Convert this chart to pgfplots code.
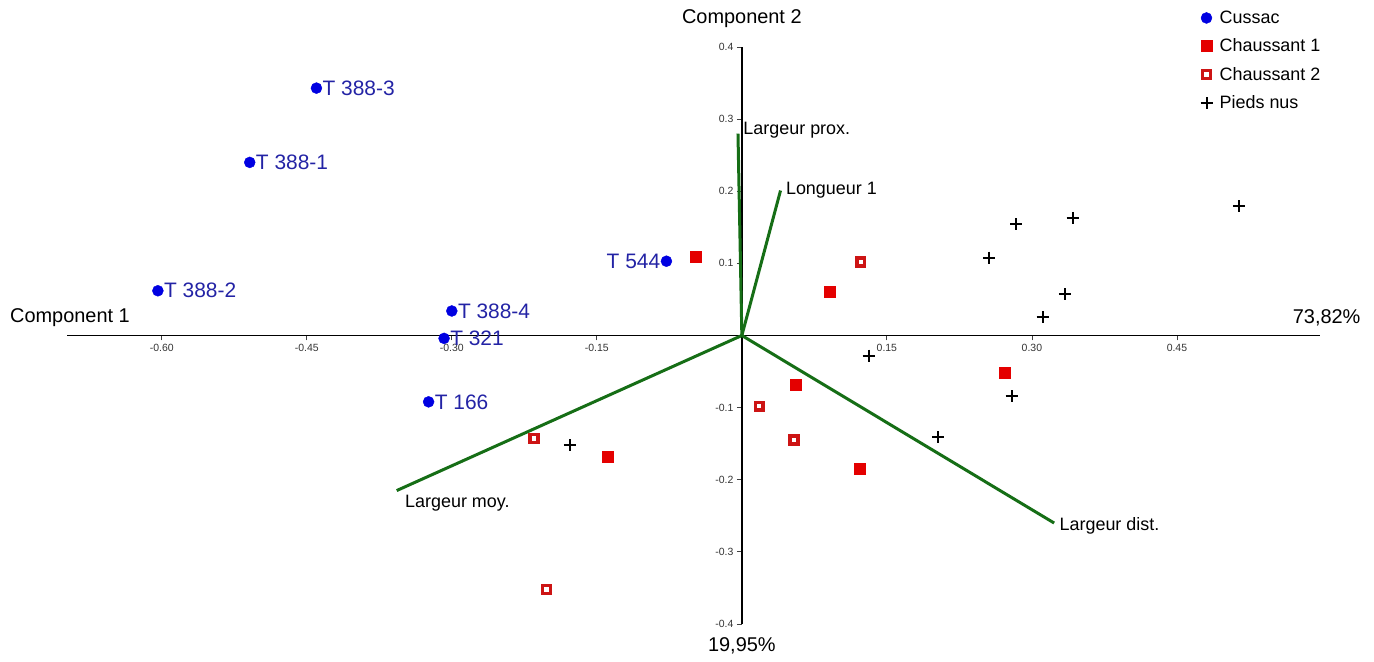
\documentclass[border=0pt]{standalone}
\usepackage{pgfplots}
\pgfplotsset{compat=1.18}
\usepackage{fontspec}
\setmainfont{Liberation Sans}
\definecolor{cblue}{RGB}{0,0,225}
\definecolor{ctext}{RGB}{35,35,165}
\definecolor{cred}{RGB}{228,0,0}
\definecolor{cred2}{RGB}{205,20,20}
\definecolor{cgreen}{RGB}{22,110,22}
\begin{document}
\begin{tikzpicture}
\path[use as bounding box] (0,0) rectangle (1374bp,662bp);
\begin{axis}[
  at={(67bp,38bp)}, anchor=south west,
  scale only axis, width=1253bp, height=577bp,
  xmin=-0.698, xmax=0.598, ymin=-0.4, ymax=0.4,
  axis lines=middle, axis line style={-, line width=1.4bp, black},
  tick align=outside, major tick length=5bp,
  tick style={line width=0.8bp, black!75},
  xtick={-0.6,-0.45,-0.3,-0.15,0.15,0.3,0.45},
  xticklabels={-0.60,-0.45,-0.30,-0.15,0.15,0.30,0.45},
  ytick={-0.4,-0.3,-0.2,-0.1,0.1,0.2,0.3,0.4},
  yticklabels={-0.4,-0.3,-0.2,-0.1,0.1,0.2,0.3,0.4},
  ticklabel style={font=\fontsize{10.5}{12}\selectfont, text=black!80},
  /pgf/number format/assume math mode=true,
  clip=false,
  legend style={at={(axis description cs:0.9027,1.068)}, anchor=north west,
    draw=none, fill=none, font=\fontsize{18}{21}\selectfont,
    row sep=10bp, inner sep=1bp},
  legend cell align=left,
  legend image code/.code={\path (0bp,0bp) (18bp,0bp);\draw[mark repeat=2,mark phase=2,#1] plot coordinates {(0bp,0bp)(7bp,0bp)(14bp,0bp)};},
]
% loadings
\addplot[forget plot, cgreen, line width=3bp] coordinates {(0,0) (-0.004,0.280)}
  node[pos=1, anchor=west, xshift=3bp, yshift=3bp, text=black, font=\fontsize{18}{21}\selectfont, inner sep=1bp] {Largeur prox.};
\addplot[forget plot, cgreen, line width=3bp] coordinates {(0,0) (0.040,0.201)}
  node[pos=1, anchor=west, xshift=3bp, text=black, font=\fontsize{18}{21}\selectfont, inner sep=1bp] {Longueur 1};
\addplot[forget plot, cgreen, line width=3bp] coordinates {(0,0) (-0.357,-0.215)}
  node[pos=1, anchor=north west, xshift=6bp, yshift=-2bp, text=black, font=\fontsize{18}{21}\selectfont, inner sep=1bp] {Largeur moy.};
\addplot[forget plot, cgreen, line width=3bp] coordinates {(0,0) (0.323,-0.260)}
  node[pos=1, anchor=west, xshift=3bp, yshift=-3bp, text=black, font=\fontsize{18}{21}\selectfont, inner sep=1bp] {Largeur dist.};
% Cussac
\addplot[only marks, mark=*, mark size=5.5bp, color=cblue,
  point meta=explicit symbolic, nodes near coords,
  every node near coord/.append style={anchor=west, xshift=6bp, text=ctext, font=\fontsize{21}{24}\selectfont, inner sep=0bp}]
  table[meta=label, col sep=comma] {
x,y,label
-0.440,0.343,T 388-3
-0.509,0.240,T 388-1
-0.604,0.062,T 388-2
-0.300,0.034,T 388-4
-0.308,-0.004,T 321
-0.324,-0.092,T 166
};
\addlegendentry{Cussac}
\addplot[forget plot, only marks, mark=*, mark size=5.5bp, color=cblue,
  point meta=explicit symbolic, nodes near coords,
  every node near coord/.append style={anchor=east, xshift=-6bp, text=ctext, font=\fontsize{21}{24}\selectfont, inner sep=0bp}]
  table[meta=label, col sep=comma] {
x,y,label
-0.078,0.103,T 544
};
% Chaussant 1
\addplot[only marks, mark=square*, mark size=5.5bp, color=cred, fill=cred] table {
x y
-0.048 0.109
0.091 0.061
0.056 -0.068
0.272 -0.051
-0.139 -0.168
0.122 -0.185
};
\addlegendentry{Chaussant 1}
% Chaussant 2
\addplot[only marks, mark=square*, mark size=3.9bp, draw=cred2, fill=white,
  mark options={line width=3.4bp, draw=cred2, fill=white}] table {
x y
0.123 0.102
0.018 -0.098
0.054 -0.145
-0.215 -0.143
-0.202 -0.352
};
\addlegendentry{Chaussant 2}
% Pieds nus
\addplot[only marks, mark=+, mark size=6bp, color=black, mark options={line width=2bp}] table {
x y
0.284 0.154
0.342 0.163
0.514 0.179
0.256 0.108
0.334 0.057
0.311 0.025
0.131 -0.028
0.279 -0.084
0.203 -0.141
-0.178 -0.152
};
\addlegendentry{Pieds nus}
% axis titles
\node[anchor=west, font=\fontsize{20}{24}\selectfont, inner sep=0bp] at (axis cs:-0.757,0.025) {Component 1};
\node[anchor=east, font=\fontsize{20}{24}\selectfont, inner sep=0bp] at (axis cs:0.640,0.025) {73,82\%};
\node[font=\fontsize{20}{24}\selectfont, inner sep=0bp] at (axis cs:0,0.439) {Component 2};
\node[font=\fontsize{20}{24}\selectfont, inner sep=0bp] at (axis cs:0,-0.430) {19,95\%};
\end{axis}
\end{tikzpicture}
\end{document}
